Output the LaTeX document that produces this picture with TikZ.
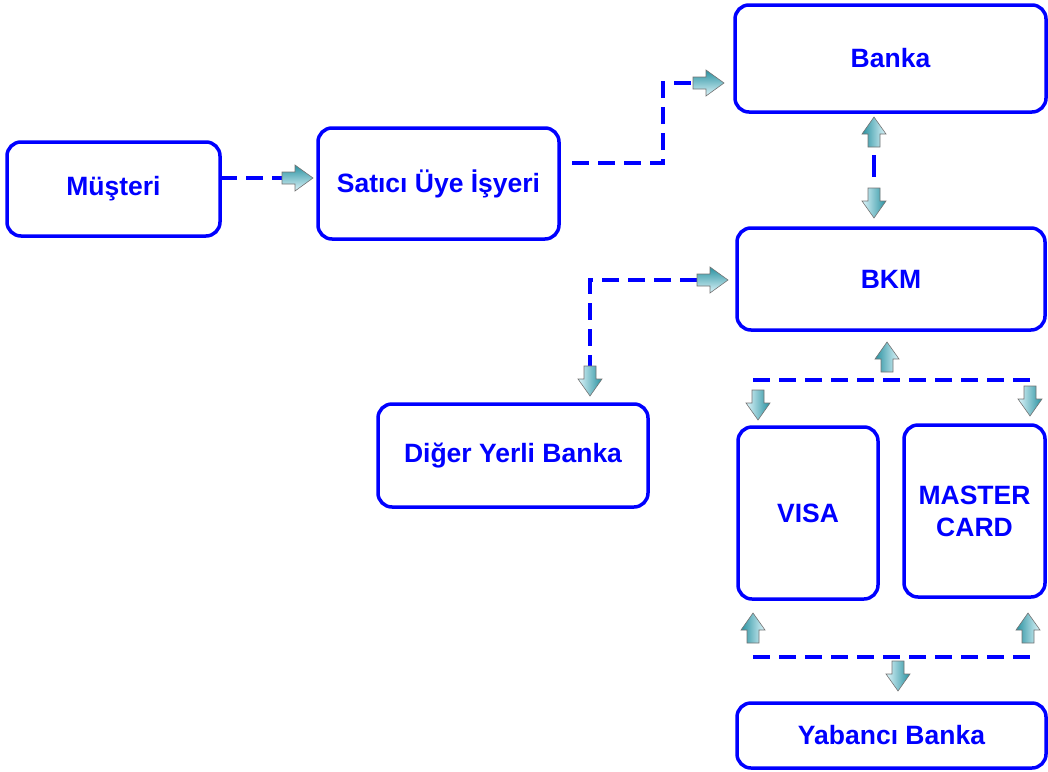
\documentclass[tikz,border=0pt]{standalone}
\usepackage{fontspec}
\setmainfont{Liberation Sans}
\definecolor{bblue}{RGB}{0,0,255}
\definecolor{adark}{RGB}{40,145,160}
\definecolor{alight}{RGB}{222,245,250}
\begin{document}
\begin{tikzpicture}[x=1pt,y=-1pt,
  box/.style={draw=bblue, line width=3.5pt, rounded corners=14pt, text=bblue,
    font=\fontsize{26.5}{32}\selectfont\bfseries, align=center, inner sep=0pt, outer sep=0pt},
  dl/.style={draw=bblue, line width=3.5pt, dash pattern=on 17pt off 9pt},
  ash/.style={draw=black!55, line width=0.6pt, top color=adark, bottom color=alight},
  arrR/.pic={\path[ash] (0,-6) -- (13,-6) -- (13,-13) -- (31,0) -- (13,13) -- (13,6) -- (0,6) -- cycle;},
  arrU/.pic={\path[ash, shading angle=90] (-6,0) -- (-6,-13) -- (-12,-13) -- (0,-30) -- (12,-13) -- (6,-13) -- (6,0) -- cycle;},
  arrD/.pic={\path[ash, shading angle=-90] (-6,0) -- (-6,13) -- (-12,13) -- (0,30) -- (12,13) -- (6,13) -- (6,0) -- cycle;},
]
\useasboundingbox (0,0) rectangle (1048,771);

% boxes
\node[box, minimum width=213pt, minimum height=94pt] (mus) at (113.5,189) {Müşteri};
\node[box, minimum width=241pt, minimum height=111pt] (sat) at (438.5,183.5) {Satıcı Üye İşyeri};
\node[box, minimum width=311pt, minimum height=107pt] (bank) at (890.5,58.5) {Banka};
\node[box, minimum width=308pt, minimum height=102pt] (bkm) at (891,279) {BKM};
\node[box, minimum width=270pt, minimum height=103pt] (diger) at (513,455.5) {Diğer Yerli Banka};
\node[box, minimum width=140pt, minimum height=172pt] (visa) at (808,513) {VISA};
\node[box, minimum width=141pt, minimum height=172pt] (mc) at (974.5,511) {MASTER\\CARD};
\node[box, minimum width=309pt, minimum height=65pt] (yab) at (891.5,735.5) {Yabancı Banka};

% arrow tail coordinates
\coordinate (t1) at (282,178);
\coordinate (c2b) at (663,83);
\coordinate (t2) at (693,83);
\coordinate (t3u) at (874,147);
\coordinate (t3d) at (874,188);
\coordinate (t4) at (697,280);
\coordinate (t5) at (590,366);
\coordinate (b1l) at (753,380);
\coordinate (b1r) at (1032,380);
\coordinate (u1) at (887,372);
\coordinate (d1) at (758,390);
\coordinate (d2) at (1030,386);
\coordinate (b2l) at (753,657);
\coordinate (b2r) at (1032,657);
\coordinate (u2) at (753,643);
\coordinate (u3) at (1028,643);
\coordinate (d3) at (898,661);

% connectors
\draw[dl] (mus.east |- t1) -- (t1);
\draw[dl] ([xshift=13pt,yshift=20.5pt]sat.east) -| (c2b) -- (t2);
\draw[dl, dash pattern=on 0pt off 8pt on 22pt off 30pt] (t3u) -- (t3d);
\draw[dl] (t4) -| (t5);
\draw[dl] (b1l) -- (b1r);
\draw[dl] (b2l) -- (b2r);

% arrow icons
\pic at (t1) {arrR};
\pic at (t2) {arrR};
\pic at (t3u) {arrU};
\pic at (t3d) {arrD};
\pic at (t4) {arrR};
\pic at (t5) {arrD};
\pic at (u1) {arrU};
\pic at (d1) {arrD};
\pic at (d2) {arrD};
\pic at (u2) {arrU};
\pic at (u3) {arrU};
\pic at (d3) {arrD};
\end{tikzpicture}
\end{document}
